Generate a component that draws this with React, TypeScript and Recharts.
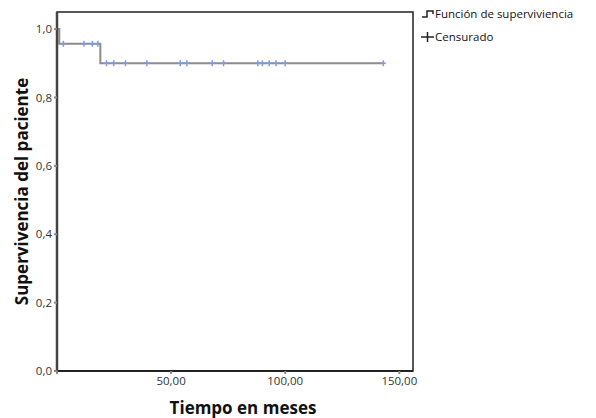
import React from "react";
import {
  ComposedChart,
  Line,
  Scatter,
  XAxis,
  YAxis,
  ReferenceArea,
  Label,
} from "recharts";

// Kaplan-Meier step function (time in months, survival)
const stepTimes = [0, 1, 19, 143];
const stepSurvival = [1, 0.957, 0.9, 0.9];

// censored observations
const censorTimesHigh = [2.8, 11.8, 15.5, 17.9];
const censorTimesLow = [
  21.7, 24.9, 30, 39.4, 54, 56.9, 68, 73, 88, 90, 93, 96, 100, 143,
];
const levelHigh = 0.957;
const levelLow = 0.9;

const xTicks = [0, 50, 100, 150];
const yTicks = [0, 0.2, 0.4, 0.6, 0.8, 1.0];

const FONT = "'Open Sans', Lato, sans-serif";

const stepData = stepTimes.map((t, i) => ({ t, s: stepSurvival[i] }));
const censorData = [
  ...censorTimesHigh.map((t) => ({ t, s: levelHigh })),
  ...censorTimesLow.map((t) => ({ t, s: levelLow })),
];

const PlusMark = (props: any) => {
  const { cx, cy } = props;
  return (
    <g stroke="#7f9be0" strokeWidth={1.5}>
      <line x1={cx} x2={cx} y1={cy - 3} y2={cy + 3} />
      <line x1={cx - 2.5} x2={cx + 2.5} y1={cy} y2={cy} />
    </g>
  );
};

const LegendBox = () => (
  <div
    style={{
      position: "absolute",
      left: 421,
      top: 2,
      fontFamily: FONT,
      fontSize: 11.5,
      color: "#111",
      lineHeight: "23px",
      whiteSpace: "nowrap",
    }}
  >
    <div style={{ display: "flex", alignItems: "center" }}>
      <svg width={13} height={12} style={{ marginRight: 1 }}>
        <polyline
          points="1,9 6,9 6,3 12,3 12,6"
          fill="none"
          stroke="#222"
          strokeWidth={1.5}
        />
      </svg>
      Función de superviviencia
    </div>
    <div style={{ display: "flex", alignItems: "center" }}>
      <svg width={13} height={12} style={{ marginRight: 1 }}>
        <line x1={0} x2={13} y1={6} y2={6} stroke="#222" strokeWidth={1.5} />
        <line x1={6.5} x2={6.5} y1={1} y2={11} stroke="#222" strokeWidth={1.5} />
      </svg>
      Censurado
    </div>
  </div>
);

export default function App() {
  return (
    <div
      style={{
        position: "absolute",
        left: 0,
        top: 0,
        width: 596,
        height: 418,
        background: "#fff",
      }}
    >
      <ComposedChart
        width={596}
        height={418}
        margin={{ top: 12, right: 183, left: 0, bottom: 0 }}
      >
        <XAxis
          type="number"
          dataKey="t"
          domain={[0, 156]}
          ticks={xTicks}
          tickFormatter={(v: number) => (v === 0 ? "" : v.toFixed(2).replace(".", ","))}
          height={47}
          axisLine={{ stroke: "#222", strokeWidth: 2 }}
          tickLine={{ stroke: "#888", strokeWidth: 2 }}
          tickSize={3}
          tickMargin={3}
          tick={{ fill: "#333", fontSize: 11.5, fontFamily: FONT }}
          allowDataOverflow
        >
          <Label
            value="Tiempo en meses"
            position="insideBottom"
            offset={4}
            dx={8}
            style={{ fontFamily: FONT, fontWeight: 700, fontSize: 17, fill: "#111" }}
          />
        </XAxis>
        <YAxis
          type="number"
          dataKey="s"
          domain={[0, 1.05]}
          ticks={yTicks}
          tickFormatter={(v: number) => v.toFixed(1).replace(".", ",")}
          width={57}
          axisLine={{ stroke: "#444", strokeWidth: 2.5 }}
          tickLine={{ stroke: "#888", strokeWidth: 2 }}
          tickSize={3}
          tick={{ fill: "#333", fontSize: 11.5, fontFamily: FONT }}
          allowDataOverflow
        >
          <Label
            value="Supervivencia del paciente"
            angle={-90}
            position="insideLeft"
            offset={22}
            style={{
              fontFamily: FONT,
              fontWeight: 700,
              fontSize: 17,
              fill: "#111",
              textAnchor: "middle",
            }}
          />
        </YAxis>
        <ReferenceArea
          x1={0}
          x2={156}
          y1={0}
          y2={1.05}
          fill="none"
          stroke="#222"
          strokeWidth={1.5}
          ifOverflow="visible"
        />
        <Line
          data={stepData}
          dataKey="s"
          type="stepAfter"
          stroke="#8c8c8c"
          strokeWidth={2}
          dot={false}
          isAnimationActive={false}
        />
        <Scatter
          data={censorData}
          dataKey="s"
          shape={<PlusMark />}
          isAnimationActive={false}
        />
      </ComposedChart>
      <LegendBox />
    </div>
  );
}
